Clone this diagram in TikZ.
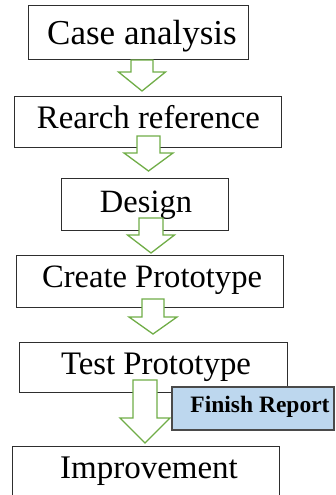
\documentclass[tikz,border=0pt]{standalone}
\usepackage{fontspec}
\setmainfont{Liberation Serif}
\definecolor{arrgreen}{HTML}{70AD47}
\definecolor{boxline}{HTML}{2E2E2E}
\definecolor{finfill}{HTML}{BDD7EE}
\definecolor{finline}{HTML}{4A4A4A}
\tikzset{
  stepbox/.style={draw=boxline, line width=1pt, fill=white, inner sep=0pt},
  finbox/.style={draw=finline, line width=1.4pt, fill=finfill, inner sep=0pt},
  txt/.style={anchor=base, inner sep=0pt, text=black},
  blockarrow/.style={draw=arrgreen, line width=1.3pt, fill=white, line join=miter}
}
% #1 = name, #2 = centre x, #3 = shaft half width, #4 = head half width, #5 = top, #6 = head base, #7 = tip
\newcommand{\greenarrow}[7]{%
  \coordinate (#1) at (#2,#7);
  \draw[blockarrow] (#2-#3,#5) -- (#2+#3,#5) -- (#2+#3,#6) -- (#2+#4,#6) -- (#1)
    -- (#2-#4,#6) -- (#2-#3,#6) -- cycle;}
\begin{document}
\begin{tikzpicture}[x=1pt,y=-1pt]
\useasboundingbox (0,0) rectangle (335,495);
\begin{scope}
\clip (0,0) rectangle (335,495);
% boxes
\node[stepbox, minimum width=220pt, minimum height=54pt] (b1) at (138,33) {};
\node[stepbox, minimum width=267pt, minimum height=51pt] (b2) at (147.5,121.5) {};
\node[stepbox, minimum width=167pt, minimum height=52pt] (b3) at (144.5,204) {};
\node[stepbox, minimum width=267pt, minimum height=52pt] (b4) at (149.5,281) {};
\node[stepbox, minimum width=268pt, minimum height=50pt] (b5) at (153,367) {};
\node[stepbox, minimum width=267pt, minimum height=54pt] (b6) at (145.5,473) {};
% texts
\node[txt, font=\fontsize{35}{40}\selectfont] (t1) at (142,45) {Case analysis};
\node[txt, font=\fontsize{32.8}{38}\selectfont] (t2) at (148.5,128) {Rearch reference};
\node[txt, font=\fontsize{32.5}{38}\selectfont] (t3) at (146,212) {Design};
\node[txt, font=\fontsize{32.6}{38}\selectfont] (t4) at (152,287) {Create Prototype};
\node[txt, font=\fontsize{32.8}{38}\selectfont] (t5) at (156,374) {Test Prototype};
\node[txt, font=\fontsize{33}{38}\selectfont] (t6) at (149,478) {Improvement};
% block arrows
\greenarrow{a1}{142}{11}{23.5}{60}{72}{91}
\greenarrow{a2}{148.5}{11.5}{24.5}{136}{153}{171}
\greenarrow{a3}{151}{12}{23.5}{218}{235}{253}
\greenarrow{a4}{153}{11}{24}{299}{317}{334}
\greenarrow{a5}{145}{12}{25}{380}{418}{443}
% finish report
\node[finbox, minimum width=162pt, minimum height=43pt] (fin) at (253,408.5) {};
\node[txt, font=\bfseries\fontsize{23.5}{28}\selectfont] (tf) at (260,412) {Finish Report};
\end{scope}
\end{tikzpicture}
\end{document}
